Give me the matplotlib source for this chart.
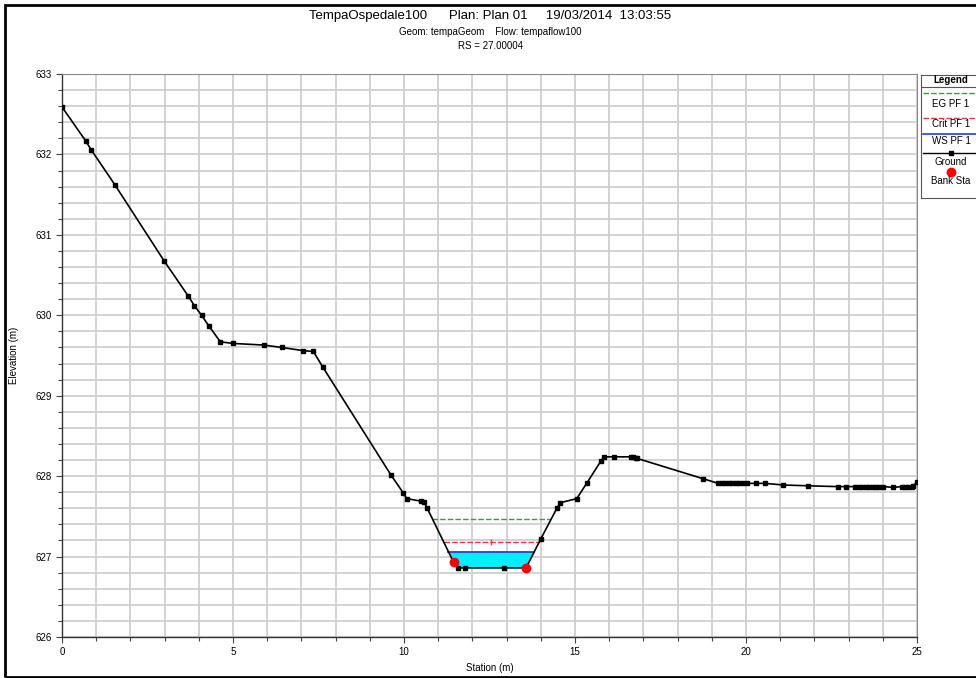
import matplotlib.pyplot as plt
import numpy as np
from matplotlib.lines import Line2D
from matplotlib.patches import Rectangle

plt.rcParams["font.family"] = ["Liberation Sans", "DejaVu Sans"]

# ground profile (station, elevation)
station = [0.0, 0.69, 0.85, 1.55, 2.98, 3.69, 3.87, 4.08, 4.29, 4.63, 5.00,
           5.90, 6.42, 7.06, 7.35, 7.62, 9.61, 9.98, 10.08, 10.49, 10.58, 10.68,
           11.45, 11.59, 11.79, 12.93, 13.57, 14.00, 14.47, 14.57, 15.05, 15.34,
           15.76, 15.86, 16.15, 16.63, 16.70, 16.77, 16.82, 18.73,
           19.19, 19.3, 19.4, 19.5, 19.6, 19.7, 19.8, 19.9, 20.02,
           20.29, 20.56, 21.09, 21.81, 22.68, 22.92,
           23.19, 23.3, 23.4, 23.5, 23.6, 23.7, 23.8, 23.9, 24.02,
           24.31, 24.55, 24.65, 24.75, 24.84, 24.89, 25.0]
elevation = [632.59, 632.17, 632.06, 631.62, 630.68, 630.24, 630.12, 630.00, 629.87, 629.67, 629.65,
             629.63, 629.60, 629.56, 629.55, 629.36, 628.02, 627.79, 627.72, 627.69, 627.68, 627.60,
             626.93, 626.86, 626.86, 626.86, 626.86, 627.22, 627.60, 627.67, 627.72, 627.91,
             628.19, 628.24, 628.24, 628.24, 628.24, 628.23, 628.22, 627.97,
             627.91, 627.91, 627.91, 627.91, 627.91, 627.91, 627.91, 627.91, 627.91,
             627.91, 627.91, 627.89, 627.88, 627.87, 627.87,
             627.87, 627.87, 627.87, 627.87, 627.87, 627.87, 627.87, 627.87, 627.87,
             627.86, 627.87, 627.87, 627.87, 627.87, 627.88, 627.93]

bank_station = [11.45, 13.57]
bank_elev = [626.93, 626.86]

ws_elev = 627.06    # WS PF 1
eg_elev = 627.47    # EG PF 1
crit_elev = 627.18  # Crit PF 1

x = np.array(station)
z = np.array(elevation)


def channel_span(level):
    # left / right crossing of a water level with the main channel walls
    i_lo = int(np.argmin(z))
    i = i_lo
    while z[i - 1] < level:
        i -= 1
    left = np.interp(level, [z[i], z[i - 1]], [x[i], x[i - 1]])
    j = i_lo
    while z[j + 1] < level:
        j += 1
    right = np.interp(level, [z[j], z[j + 1]], [x[j], x[j + 1]])
    return left, right


fig = plt.figure(figsize=(9.76, 6.78), dpi=100)
ax = fig.add_axes([62 / 976, 1 - 637 / 678, 855 / 976, 563 / 678])

ax.fill_between(x, z, ws_elev, where=z <= ws_elev, interpolate=True,
                color="#00f0ff", zorder=2, linewidth=0)

l, r = channel_span(eg_elev)
ax.plot([l, r], [eg_elev, eg_elev], color="#3c9a3c", lw=1.0, ls=(0, (4, 1.5)), zorder=3)
l, r = channel_span(crit_elev)
ax.plot([l, r], [crit_elev, crit_elev], color="#e03a3a", lw=1.0, ls=(0, (4, 1.5)), zorder=3)
ax.plot([(l + r) / 2], [crit_elev], marker="|", color="#e03a3a", ms=4, zorder=3)
l, r = channel_span(ws_elev)
ax.plot([l, r], [ws_elev, ws_elev], color="#2a3fd0", lw=1.3, zorder=3)

ax.plot(x, z, color="black", lw=1.2, marker="s", ms=3.2, zorder=4)
ax.plot(bank_station, bank_elev, "o", color="#ff0000", ms=6, zorder=5)

ax.set_xlim(0, 25)
ax.set_ylim(626, 633)
ax.set_xticks(np.arange(0, 26, 5))
ax.set_xticks(np.arange(0, 26, 1), minor=True)
ax.set_yticks(np.arange(626, 634, 1))
ax.set_yticks(np.arange(626, 633.01, 0.2), minor=True)
ax.grid(True, which="both", color="#cfcfcf", lw=1.3, zorder=0)
ax.set_axisbelow(True)
ax.tick_params(which="both", direction="out", labelsize=7, color="#444444", width=0.8)
ax.tick_params(which="major", length=4)
ax.tick_params(which="minor", length=3)
for s in ["top", "right"]:
    ax.spines[s].set_color("#888888")
for s in ["left", "bottom"]:
    ax.spines[s].set_color("#333333")
    ax.spines[s].set_linewidth(1.0)

fig.text(14 / 976, 1 - 355 / 678, "Elevation (m)", rotation=90, fontsize=7, ha="center", va="center")
fig.text(490 / 976, 1 - 668 / 678, "Station (m)", fontsize=7, ha="center", va="center")

fig.text(490 / 976, 1 - 16 / 678,
         "TempaOspedale100      Plan: Plan 01     19/03/2014  13:03:55",
         fontsize=9.5, ha="center", va="center")
fig.text(490 / 976, 1 - 32 / 678, "Geom: tempaGeom    Flow: tempaflow100",
         fontsize=7, ha="center", va="center")
fig.text(490 / 976, 1 - 46 / 678, "RS = 27.00004", fontsize=7, ha="center", va="center")

# outer frame
fig.patches.append(Rectangle((5 / 976, 1 / 678), 975 / 976, 672 / 678, transform=fig.transFigure,
                             fill=False, edgecolor="black", lw=2))

# legend box
lg = fig.add_axes([921 / 976, 1 - 198 / 678, 60 / 976, 123 / 678])
lg.set_xlim(0, 60)
lg.set_ylim(123, 0)
lg.set_xticks([])
lg.set_yticks([])
for s in lg.spines.values():
    s.set_color("#555555")
    s.set_linewidth(0.8)
lg.text(30, 5, "Legend", fontsize=7, fontweight="bold", ha="center", va="center")
lg.plot([0, 60], [12, 12], color="#555555", lw=0.8)
lg.plot([2, 58], [18, 18], color="#3c9a3c", lw=1.0, ls=(0, (4, 1.5)))
lg.text(30, 29, "EG PF 1", fontsize=7, ha="center", va="center")
lg.plot([2, 58], [42.5, 42.5], color="#e03a3a", lw=1.0, ls=(0, (4, 1.5)))
lg.text(30, 49, "Crit PF 1", fontsize=7, ha="center", va="center")
lg.plot([2, 58], [59, 59], color="#2a3fd0", lw=1.2)
lg.text(30, 66, "WS PF 1", fontsize=7, ha="center", va="center")
lg.plot([2, 30, 58], [78, 78, 78], color="black", lw=1.0, marker="s", ms=3.2, markevery=[1])
lg.text(30, 87, "Ground", fontsize=7, ha="center", va="center")
lg.plot([30], [97], "o", color="#ff0000", ms=6)
lg.text(30, 106, "Bank Sta", fontsize=7, ha="center", va="center")

fig.savefig("out.png", dpi=100)
